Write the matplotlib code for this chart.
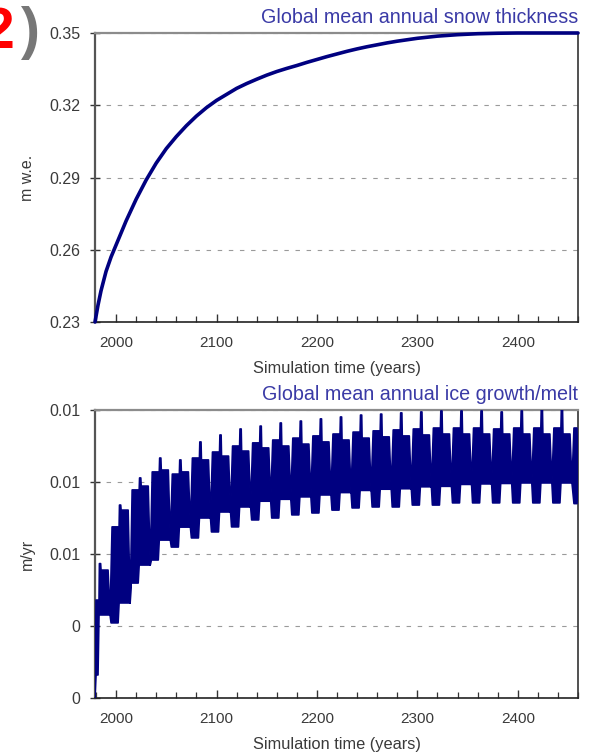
import matplotlib
matplotlib.use("Agg")
import matplotlib.pyplot as plt
from matplotlib.ticker import MultipleLocator, FixedLocator

plt.rcParams['font.family'] = ['Liberation Sans', 'DejaVu Sans']

NAVY = "#000080"
TITLE_BLUE = "#3a3aa6"
TXT = "#3a3a3a"

# top panel: global mean annual snow thickness (m w.e.)
snow_years = [1979, 1982, 1985, 1990, 1995, 2000, 2010, 2020, 2030, 2040, 2050,
              2060, 2070, 2080, 2090, 2100, 2110, 2120, 2130, 2140, 2150, 2160,
              2170, 2180, 2190, 2200, 2210, 2220, 2230, 2240, 2250, 2260, 2270,
              2280, 2290, 2300, 2320, 2340, 2360, 2380, 2400, 2420, 2440, 2460]
snow_thick = [0.230, 0.237, 0.243, 0.251, 0.257, 0.262, 0.272, 0.281, 0.289,
              0.296, 0.302, 0.307, 0.3115, 0.3155, 0.319, 0.322, 0.3245, 0.327,
              0.329, 0.3308, 0.3325, 0.334, 0.3353, 0.3365, 0.3378, 0.339,
              0.3402, 0.3413, 0.3424, 0.3434, 0.3443, 0.3451, 0.3459, 0.3466,
              0.3472, 0.3478, 0.3487, 0.3493, 0.3497, 0.3499, 0.350, 0.350,
              0.350, 0.350]

# bottom panel: ice growth/melt, read cycle by cycle (one spike every 20 yr)
ice_start = (1979, 0.0)
ice_spike_years = [1984, 2004, 2024, 2044, 2064, 2084, 2104, 2124, 2144, 2164,
                   2184, 2204, 2224, 2244, 2264, 2284, 2304, 2324, 2344, 2364,
                   2384, 2404, 2424, 2444]
ice_peak = [0.0056, 0.00804, 0.00917, 0.0100, 0.00992, 0.01067, 0.01096, 0.01121,
            0.01133, 0.01146, 0.01154, 0.01163, 0.01171, 0.01179, 0.01183, 0.01188,
            0.01192, 0.01196, 0.01196, 0.01196, 0.01192, 0.01196, 0.0120, 0.0120]
ice_top_left = [0.00408, 0.00713, 0.00867, 0.00942, 0.00933, 0.0100, 0.01025, 0.0105,
                0.01063, 0.01075, 0.01083, 0.01092, 0.0110, 0.01108, 0.01113, 0.01117,
                0.01121, 0.01125, 0.01125, 0.01125, 0.01121, 0.01125, 0.01125, 0.01125]
ice_top_right = [0.00533, 0.00783, 0.00883, 0.0095, 0.00942, 0.00992, 0.01008, 0.01029,
                 0.01042, 0.0105, 0.01058, 0.01067, 0.01075, 0.01083, 0.01088, 0.01092,
                 0.01096, 0.0110, 0.0110, 0.0110, 0.0110, 0.0110, 0.0110, 0.0110]
ice_low_left = [0.00096, 0.00313, 0.00479, 0.00575, 0.00629, 0.00667, 0.00692, 0.00713,
                0.00742, 0.0075, 0.00763, 0.00771, 0.00783, 0.00792, 0.00796, 0.00796,
                0.00804, 0.00804, 0.00813, 0.00813, 0.00813, 0.00813, 0.00813, 0.00813]
ice_low_right = [0.00346, 0.00396, 0.00554, 0.00658, 0.00712, 0.0075, 0.00775, 0.00796,
                 0.00820, 0.00828, 0.00838, 0.00846, 0.00856, 0.00865, 0.00870, 0.00872,
                 0.00880, 0.00882, 0.00890, 0.00892, 0.00894, 0.00896, 0.00896, 0.00896]
tail_years = [2456, 2459, 2460]
tail_upper = [0.01125, 0.01125, 0.0089]
tail_lower = [0.0081, 0.0081, 0.0089]

# band outline: upper and lower edge of the yearly oscillation
up_x, up_y = [ice_start[0]], [ice_start[1]]
lo_x, lo_y = [ice_start[0]], [ice_start[1]]
for k, s in enumerate(ice_spike_years):
    a = max(s - 8, ice_start[0] + 1)
    up_x += [a, s - 1, s - 0.6, s + 0.6, s + 1, s + 8, s + 10]
    up_y += [ice_top_left[k], ice_top_left[k], ice_peak[k], ice_peak[k],
             ice_top_right[k], ice_top_right[k], ice_low_right[k]]
    b = max(s - 9, ice_start[0] + 1)
    lo_x += [b, s - 2, s - 1, s + 9, s + 10]
    lo_y += [ice_low_left[k], ice_low_left[k], ice_low_right[k],
             ice_low_right[k], ice_low_right[k]]
up_x += tail_years
up_y += tail_upper
lo_x += tail_years
lo_y += tail_lower

fig = plt.figure(figsize=(6.01, 7.56), dpi=100)
ax1 = fig.add_axes([95 / 601, 1 - 322 / 756, 483 / 601, 289 / 756])
ax2 = fig.add_axes([95 / 601, 1 - 698 / 756, 483 / 601, 288 / 756])

ax1.plot(snow_years, snow_thick, color=NAVY, lw=2.6, solid_capstyle='round',
         solid_joinstyle='round', clip_on=False, zorder=3)
ax2.fill(up_x + lo_x[::-1], up_y + lo_y[::-1], facecolor=NAVY, edgecolor=NAVY,
         lw=1.2, joinstyle='round', zorder=3)

ax1.set_ylim(0.23, 0.35)
ax1.set_yticks([0.23, 0.26, 0.29, 0.32, 0.35])
ax1.set_yticklabels(["0.23", "0.26", "0.29", "0.32", "0.35"])
ax2.set_ylim(0, 0.012)
ax2.set_yticks([0, 0.003, 0.006, 0.009, 0.012])
ax2.set_yticklabels(["0", "0", "0.01", "0.01", "0.01"])

for ax in (ax1, ax2):
    ax.set_xlim(1979, 2460)
    ax.xaxis.set_major_locator(FixedLocator([2000, 2100, 2200, 2300, 2400]))
    ax.xaxis.set_minor_locator(MultipleLocator(20))
    ax.yaxis.grid(True, ls=(0, (4, 6)), color='#9a9a9a', lw=0.8, zorder=1)
    ax.set_axisbelow(True)
    ax.tick_params(axis='x', which='both', direction='in', color='#333',
                   labelsize=11, labelcolor=TXT, pad=10)
    ax.tick_params(axis='x', which='major', length=6, width=1)
    ax.tick_params(axis='x', which='minor', length=4, width=0.9)
    ax.tick_params(axis='y', direction='inout', length=7, width=1, color='#333',
                   labelsize=11.5, labelcolor=TXT, pad=7)
    ax.spines['top'].set_color('#8c8c8c')
    ax.spines['top'].set_linewidth(1.6)
    ax.spines['left'].set_color('#555555')
    ax.spines['left'].set_linewidth(1.6)
    ax.spines['right'].set_color('#333333')
    ax.spines['right'].set_linewidth(1.2)
    ax.spines['bottom'].set_color('#222222')
    ax.spines['bottom'].set_linewidth(1.2)
    ax.set_xlabel("Simulation time (years)", fontsize=11.8, color=TXT, labelpad=8)
    ax.yaxis.set_label_coords(-0.124, 0.5)

ax1.set_ylabel("m w.e.", fontsize=11.5, color=TXT)
ax2.set_ylabel("m/yr", fontsize=11.5, color=TXT)
ax1.set_title("Global mean annual snow thickness", loc='right', color=TITLE_BLUE,
              fontsize=14.2, pad=7)
ax2.set_title("Global mean annual ice growth/melt", loc='right', color=TITLE_BLUE,
              fontsize=14.2, pad=7)

fig.text(15 / 601, 1 - 48 / 756, "2", color='#ff0000', fontsize=41,
         fontweight='bold', ha='right', va='baseline')
fig.text(21 / 601, 1 - 48 / 756, ")", color='#777777', fontsize=41,
         fontweight='bold', ha='left', va='baseline')

fig.savefig("out.png", dpi=100)
